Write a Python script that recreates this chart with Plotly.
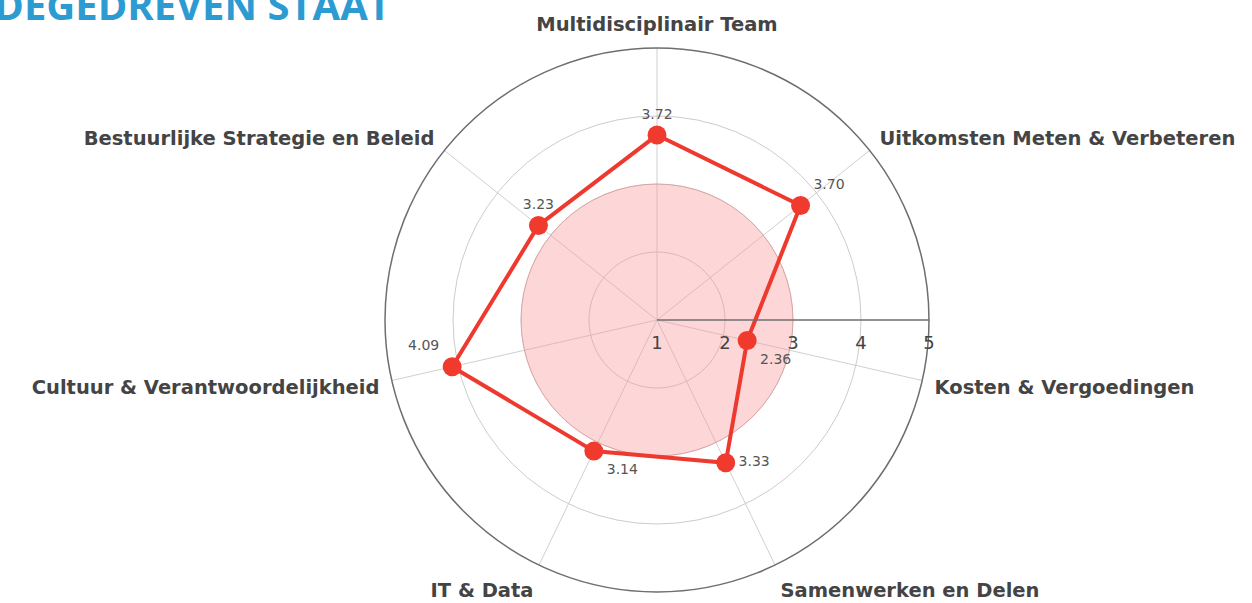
import plotly.graph_objects as go

categories = [
    "Multidisciplinair Team",
    "Uitkomsten Meten & Verbeteren",
    "Kosten & Vergoedingen",
    "Samenwerken en Delen",
    "IT & Data",
    "Cultuur & Verantwoordelijkheid",
    "Bestuurlijke Strategie en Beleid",
]
scores = [3.72, 3.70, 2.36, 3.33, 3.14, 4.09, 3.23]
score_labels = ["3.72", "3.70", "2.36", "3.33", "3.14", "4.09", "3.23"]
label_positions = ["top center", "top right", "bottom right", "middle right",
                   "bottom right", "top left", "top center"]
benchmark = [3]
radial_ticks = [1, 2, 3, 4, 5]
title_text = "WAARDEGEDREVEN STAAT"

n = len(categories)
step = 360 / n
thetas = [i * step for i in range(n)]

W, H = 1252, 603
cx, cy, R = 657, 320, 272

fig = go.Figure()

fig.add_trace(go.Barpolar(
    r=benchmark, theta=[0], width=[360], base=0,
    marker=dict(color="rgba(250,150,150,0.38)",
                line=dict(color="rgba(220,140,140,0.5)", width=1)),
    hoverinfo="skip", showlegend=False,
))

fig.add_trace(go.Scatterpolar(
    r=scores + [scores[0]], theta=thetas + [thetas[0]],
    mode="lines", line=dict(color="#EE3A2E", width=4),
    hoverinfo="skip", showlegend=False,
))

fig.add_trace(go.Scatterpolar(
    r=scores, theta=thetas, mode="markers+text",
    marker=dict(color="#F03A2E", size=19),
    text=score_labels, textposition=label_positions,
    textfont=dict(family="DejaVu Sans", size=14, color="#555555"),
    showlegend=False,
))

fig.update_layout(
    width=W, height=H,
    margin=dict(l=0, r=0, t=0, b=0),
    paper_bgcolor="white",
    polar=dict(
        domain=dict(x=[(cx - R) / W, (cx + R) / W],
                    y=[(H - cy - R) / H, (H - cy + R) / H]),
        bgcolor="white",
        barmode="overlay",
        angularaxis=dict(
            direction="clockwise", rotation=90,
            tickmode="array", tickvals=thetas, ticktext=categories,
            tickfont=dict(family="DejaVu Sans", size=19.5, color="#444444",
                          weight="bold"),
            showline=True, linecolor="#6e6e6e", linewidth=1.5,
            gridcolor="#d0d0d0", gridwidth=1,
            ticks="outside", ticklen=8, tickcolor="rgba(0,0,0,0)",
        ),
        radialaxis=dict(
            range=[1, 5], angle=0, tickvals=radial_ticks,
            tickfont=dict(family="DejaVu Sans", size=18, color="#444444"),
            showline=True, linecolor="#6e6e6e", linewidth=1.5,
            gridcolor="#cccccc", gridwidth=1.2,
            ticks="outside", ticklen=7, tickcolor="rgba(0,0,0,0)",
            side="clockwise",
        ),
    ),
    annotations=[dict(
        text="<b>" + title_text + "</b>", xref="paper", yref="paper",
        x=393 / W, y=1 - 5 / H, xanchor="right", yanchor="middle",
        showarrow=False,
        font=dict(family="Open Sans", size=40, color="#2C9BD2"),
    )],
)

fig.write_html("out.html",
               config={"displayModeBar": False},
               post_script="document.body.style.margin='0px';document.body.style.padding='0px';")
